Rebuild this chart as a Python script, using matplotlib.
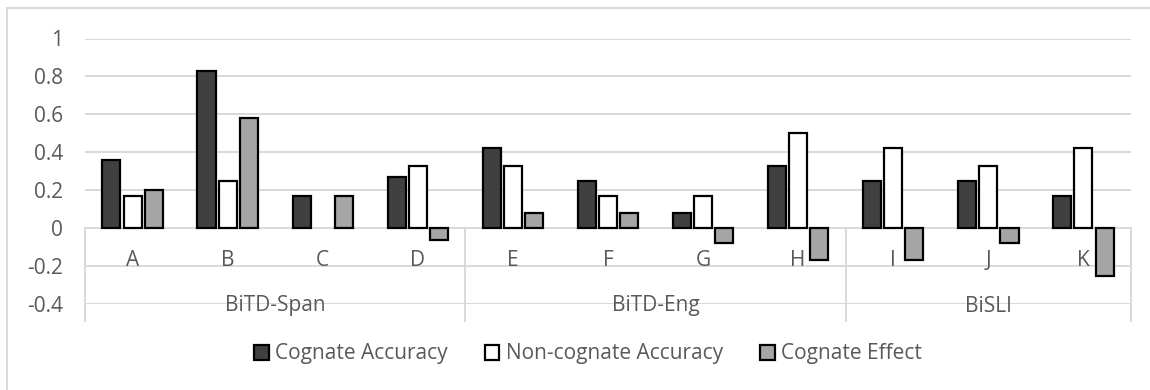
import matplotlib
matplotlib.use("Agg")
import matplotlib.pyplot as plt
from matplotlib.patches import Rectangle, Patch
from matplotlib.transforms import blended_transform_factory
import numpy as np

categories = ["A", "B", "C", "D", "E", "F", "G", "H", "I", "J", "K"]
groups = ["BiTD-Span", "BiTD-Eng", "BiSLI"]
group_sizes = [4, 4, 3]
cognate_accuracy = [0.36, 0.83, 0.17, 0.27, 0.42, 0.25, 0.08, 0.33, 0.25, 0.25, 0.17]
noncognate_accuracy = [0.17, 0.25, 0.0, 0.33, 0.33, 0.17, 0.17, 0.50, 0.42, 0.33, 0.42]
cognate_effect = [0.20, 0.58, 0.17, -0.06, 0.08, 0.08, -0.08, -0.17, -0.17, -0.08, -0.25]
series_names = ["Cognate Accuracy", "Non-cognate Accuracy", "Cognate Effect"]
yticks = [-0.4, -0.2, 0, 0.2, 0.4, 0.6, 0.8, 1]

FONT = "Open Sans"
FS = 15
TXT = "#595959"
GRID = "#D9D9D9"
colors = ["#404040", "#FFFFFF", "#A5A5A5"]

W, H = 1150, 390
fig = plt.figure(figsize=(W / 100, H / 100), dpi=100)
ax = fig.add_axes([85 / W, 1 - 304 / H, (1131 - 85) / W, (304 - 38.5) / H])

x = np.arange(len(categories))
bw = 0.19
step = 0.222
for i, (vals, c) in enumerate(zip([cognate_accuracy, noncognate_accuracy, cognate_effect], colors)):
    bars = ax.bar(x + (i - 1) * step, vals, width=bw, color=c, edgecolor="black",
                  linewidth=1.6, zorder=3)
    for b, v in zip(bars, vals):
        if v == 0:
            b.set_linewidth(0)

ax.set_xlim(-0.5, len(categories) - 0.5)
ax.set_ylim(-0.4, 1)
ax.set_yticks(yticks)
ax.set_yticklabels([f"{t:g}" for t in yticks], fontfamily=FONT, fontsize=FS, color=TXT)
ax.tick_params(axis="y", length=0, pad=16)
ax.tick_params(axis="x", length=0, labelbottom=False)
for s in ax.spines.values():
    s.set_visible(False)
for t in yticks:
    ax.axhline(t, color=GRID, lw=1.4, zorder=1)

# category and group labels beneath the zero line
trans = blended_transform_factory(ax.transData, fig.transFigure)
for xi, c in zip(x, categories):
    ax.text(xi, 1 - 260 / H, c, transform=trans, ha="center", va="center",
            fontfamily=FONT, fontsize=FS, color=TXT)

bounds = np.concatenate([[0], np.cumsum(group_sizes)]) - 0.5
for g, lo, hi in zip(groups, bounds[:-1], bounds[1:]):
    ax.text((lo + hi) / 2, 1 - 306 / H, g, transform=trans, ha="center", va="center",
            fontfamily=FONT, fontsize=FS, color=TXT)
for b in bounds:
    ax.plot([b, b], [0, -0.4 - (321 - 304) / 190], color=GRID, lw=1.4,
            clip_on=False, zorder=1)

handles = [Patch(facecolor=c, edgecolor="black", linewidth=1.6) for c in colors]
leg = fig.legend(handles, series_names, loc="center", bbox_to_anchor=(588 / W, 1 - 354 / H),
                 ncol=3, frameon=False, handlelength=0.7, handleheight=0.7,
                 handletextpad=0.3, columnspacing=1.8,
                 prop={"family": FONT, "size": FS})
for t in leg.get_texts():
    t.set_color(TXT)

fig.patches.append(Rectangle((7 / W, -0.1), 1.2, 1 - 8 / H + 0.1, transform=fig.transFigure,
                             fill=False, edgecolor=GRID, lw=1.4))

fig.savefig("out.png", dpi=100)
